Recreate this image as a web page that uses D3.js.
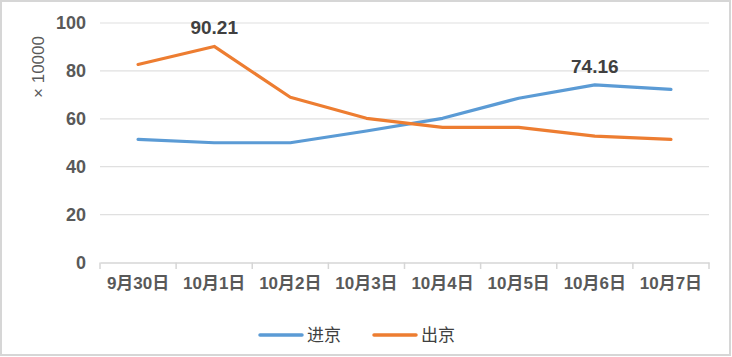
<!DOCTYPE html>
<html><head><meta charset="utf-8">
<script src="https://cdn.jsdelivr.net/npm/d3@7"></script>
<style>body{margin:0;background:#fff;}svg{display:block;}</style>
</head><body>
<script>
const categories = ["9月30日","10月1日","10月2日","10月3日","10月4日","10月5日","10月6日","10月7日"];
const inbound = [51.4, 50.0, 50.0, 54.9, 60.2, 68.6, 74.16, 72.3];
const outbound = [82.7, 90.21, 69.0, 60.2, 56.4, 56.4, 52.8, 51.4];
const yTicks = [0, 20, 40, 60, 80, 100];
const seriesNames = ["进京", "出京"];
const colors = ["#5B9BD5", "#ED7D31"];
const dataLabels = [{series:1, index:1, text:"90.21"}, {series:0, index:6, text:"74.16"}];

const W = 732, H = 357;
const font = "'Liberation Sans', Arial, 'Noto Sans CJK SC', sans-serif";
const svg = d3.select("body").append("svg").attr("width", W).attr("height", H);
svg.append("rect").attr("x",1).attr("y",1).attr("width",W-3).attr("height",H-3)
  .attr("fill","#fff").attr("stroke","#d6d6d6").attr("stroke-width",2);

const x = d3.scaleBand().domain(categories).range([100, 709]);
const y = d3.scaleLinear().domain([0, 100]).range([262.5, 23]);

// gridlines
svg.append("g").selectAll("line").data(yTicks.filter(d=>d>0)).join("line")
  .attr("x1",100).attr("x2",709).attr("y1",d=>y(d)).attr("y2",d=>y(d))
  .attr("stroke","#e0e0e0").attr("stroke-width",1.2);

// y axis labels
const yAxis = svg.append("g").attr("transform","translate(100,0)")
  .call(d3.axisLeft(y).tickValues(yTicks).tickSize(0).tickPadding(14));
yAxis.select(".domain").remove();
yAxis.selectAll("text").attr("font-family",font).attr("font-size",18).attr("font-weight","bold").attr("fill","#595959");

// x axis
const xAxis = svg.append("g").attr("transform","translate(0,262.5)")
  .call(d3.axisBottom(x).tickSize(0).tickPadding(14));
xAxis.select(".domain").attr("stroke","#d6d6d6").attr("stroke-width",1.5);
xAxis.selectAll("text").attr("font-family",font).attr("font-size",17).attr("font-weight","bold").attr("fill","#595959");
const bounds = categories.map(c=>x(c)).concat([x.range()[1]]);
svg.append("g").selectAll("line").data(bounds).join("line")
  .attr("x1",d=>d).attr("x2",d=>d).attr("y1",262.5).attr("y2",269)
  .attr("stroke","#d6d6d6").attr("stroke-width",1.5);

// axis title
svg.append("text").attr("transform","translate(44,67) rotate(-90)")
  .attr("text-anchor","middle").attr("font-family",font).attr("font-size",17)
  .attr("fill","#595959").text("× 10000");

// lines
const line = d3.line().x((d,i)=>x(categories[i]) + x.bandwidth()/2).y(d=>y(d));
[inbound, outbound].forEach((s,k)=>{
  svg.append("path").datum(s).attr("d",line).attr("fill","none")
    .attr("stroke",colors[k]).attr("stroke-width",3.2).attr("stroke-linejoin","round").attr("stroke-linecap","round");
});

// data labels
const allSeries = [inbound, outbound];
dataLabels.forEach(l=>{
  svg.append("text").attr("x", x(categories[l.index]) + x.bandwidth()/2)
    .attr("y", y(allSeries[l.series][l.index]) - 12)
    .attr("text-anchor","middle").attr("font-family",font).attr("font-size",19)
    .attr("font-weight","bold").attr("fill","#404040").text(l.text);
});

// legend
const legendX = [260, 374];
seriesNames.forEach((n,k)=>{
  svg.append("line").attr("x1",legendX[k]).attr("x2",legendX[k]+42).attr("y1",335).attr("y2",335)
    .attr("stroke",colors[k]).attr("stroke-width",3.5).attr("stroke-linecap","round");
  svg.append("text").attr("x",legendX[k]+47).attr("y",341).attr("font-family","'Noto Sans CJK SC', sans-serif")
    .attr("font-size",17).attr("fill","#404040").text(n);
});
</script>
</body></html>
